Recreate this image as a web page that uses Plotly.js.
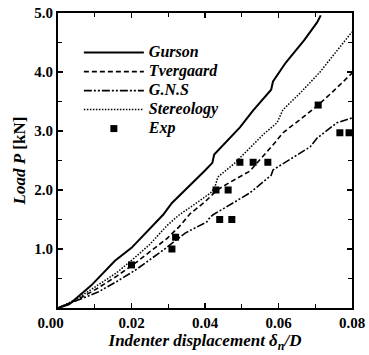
<!DOCTYPE html>
<html><head><meta charset="utf-8">
<script src="https://cdn.plot.ly/plotly-3.0.1.min.js"></script>
<style>html,body{margin:0;padding:0;background:#fff;}#chart{width:369px;height:355px;}</style>
</head><body><div id="chart"></div>
<script>
const gursonX = [0,0.003,0.009,0.0155,0.02,0.024,0.0286,0.031,0.035,0.040,0.042,0.0425,0.0495,0.053,0.058,0.0585,0.062,0.067,0.0705,0.0715];
const gursonY = [0,0.06,0.38,0.80,1.02,1.28,1.58,1.78,2.02,2.33,2.46,2.60,3.06,3.34,3.70,3.84,4.16,4.54,4.84,4.96];
const tvergX = [0,0.005,0.0109,0.016,0.021,0.0255,0.0297,0.033,0.036,0.040,0.0433,0.0465,0.0522,0.059,0.0612,0.066,0.0708,0.075,0.080];
const tvergY = [0,0.13,0.34,0.54,0.76,0.98,1.18,1.38,1.60,1.80,2.0,2.12,2.32,2.80,2.97,3.20,3.44,3.68,3.98];
const gnsX = [0,0.005,0.0109,0.016,0.021,0.0286,0.0346,0.0405,0.0414,0.0422,0.0495,0.0522,0.058,0.0585,0.0686,0.0705,0.0759,0.080];
const gnsY = [0,0.12,0.27,0.45,0.64,0.98,1.27,1.46,1.54,1.58,1.85,1.95,2.25,2.34,2.73,2.88,3.14,3.22];
const stereoX = [0,0.005,0.0109,0.016,0.021,0.025,0.0297,0.033,0.037,0.0415,0.0427,0.0435,0.048,0.0522,0.056,0.0596,0.0612,0.066,0.0713,0.0732,0.080];
const stereoY = [0,0.15,0.39,0.60,0.86,1.08,1.40,1.58,1.75,1.95,2.05,2.22,2.45,2.72,2.95,3.14,3.36,3.65,4.00,4.15,4.68];
const expX = [0.020,0.031,0.032,0.043,0.0463,0.044,0.0473,0.0495,0.0531,0.0571,0.0708,0.0767,0.0792];
const expY = [0.73,1.0,1.2,2.0,2.0,1.5,1.5,2.47,2.47,2.47,3.44,2.97,2.97];
const names = ['Gurson','Tvergaard','G.N.S','Stereology','Exp'];
const xTicks = [0,0.02,0.04,0.06,0.08];
const xTickText = ['0.00\u00a0\u00a0\u00a0\u00a0','0.02','0.04','0.06','0.08'];
const yTicks = [1,2,3,4,5];
const yTickText = ['1.0','2.0','3.0','4.0','5.0'];

const serif = 'Liberation Serif, Times New Roman, serif';
const traces = [
  {x: gursonX, y: gursonY, name: names[0], mode: 'lines', line: {color: '#000', width: 2, dash: 'solid'}},
  {x: tvergX, y: tvergY, name: names[1], mode: 'lines', line: {color: '#000', width: 1.6, dash: '5px,3px'}},
  {x: gnsX, y: gnsY, name: names[2], mode: 'lines', line: {color: '#000', width: 1.6, dash: '8px,2px,2px,2px,2px,2px'}},
  {x: stereoX, y: stereoY, name: names[3], mode: 'lines', line: {color: '#000', width: 1.5, dash: '1.5px,1.5px'}},
  {x: expX, y: expY, name: names[4], mode: 'markers', marker: {symbol: 'square', size: 7, color: '#000'}}
];
const axisCommon = {
  showline: true, linecolor: '#000', linewidth: 2, mirror: 'ticks',
  ticks: 'inside', ticklen: 5, tickwidth: 1.5, tickcolor: '#000',
  showgrid: false, zeroline: false,
  tickfont: {family: serif, size: 15, color: '#000', weight: 'bold'}
};
const layout = {
  width: 369, height: 355,
  margin: {l: 58, r: 17, t: 13, b: 47},
  paper_bgcolor: '#fff', plot_bgcolor: '#fff',
  showlegend: true,
  legend: {x: 0.071, y: 0.915, xanchor: 'left', yanchor: 'top', bgcolor: 'rgba(0,0,0,0)',
    itemwidth: 60, tracegroupgap: 0,
    font: {family: serif, size: 12.3, color: '#000', style: 'italic', weight: 'bold'}},
  xaxis: Object.assign({}, axisCommon, {
    range: [0, 0.08], tickvals: xTicks, ticktext: xTickText,
    minor: {dtick: 0.01, ticks: 'inside', ticklen: 4, tickcolor: '#000', tickwidth: 1.2},
    title: {text: '<i><b>Indenter displacement δ<sub>n</sub>/D</b></i>', standoff: 3,
      font: {family: serif, size: 17, color: '#000'}}
  }),
  yaxis: Object.assign({}, axisCommon, {
    range: [0, 5], tickvals: yTicks, ticktext: yTickText,
    minor: {dtick: 0.5, ticks: 'inside', ticklen: 4, tickcolor: '#000', tickwidth: 1.2},
    title: {text: '<i><b>Load P</b></i> <b>[kN]</b>', standoff: 4,
      font: {family: serif, size: 17, color: '#000'}}
  })
};
Plotly.newPlot('chart', traces, layout, {displayModeBar: false, staticPlot: true}).then(function () {
  // enlarge legend labels while keeping the compact row spacing of the original figure
  document.querySelectorAll('#chart .legend [clip-path]').forEach(function (e) {
    e.removeAttribute('clip-path');
  });
  document.querySelectorAll('#chart .legendtext').forEach(function (t) {
    t.style.fontSize = '16px';
  });
});
</script></body></html>
